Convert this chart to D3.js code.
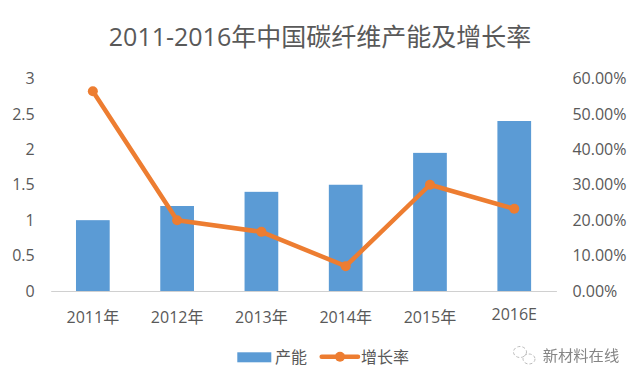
<!DOCTYPE html>
<html>
<head>
<meta charset="utf-8">
<script src="https://cdn.jsdelivr.net/npm/d3@7"></script>
<style>
  html, body { margin: 0; padding: 0; background: #fff; }
  text { font-family: "Open Sans", "Noto Sans CJK SC", sans-serif; fill: #595959; }
</style>
</head>
<body>
<div id="chart"></div>
<script>
var categories = ['2011年', '2012年', '2013年', '2014年', '2015年', '2016E'];
var capacity = [1, 1.2, 1.4, 1.5, 1.95, 2.4];
var growth = [0.564, 0.2, 0.167, 0.07, 0.3, 0.232];
var leftTicks = [0, 0.5, 1, 1.5, 2, 2.5, 3];
var rightTicks = [0, 0.1, 0.2, 0.3, 0.4, 0.5, 0.6];

var width = 640, height = 384;
var plot = {left: 50.7, right: 556.4, top: 78.5, bottom: 291};

var svg = d3.select('#chart').append('svg')
  .attr('width', width)
  .attr('height', height);

var x = d3.scaleBand().domain(categories).range([plot.left, plot.right]).paddingInner(0.6).paddingOuter(0.3);
var yLeft = d3.scaleLinear().domain([0, 3]).range([plot.bottom, plot.top]);
var yRight = d3.scaleLinear().domain([0, 0.6]).range([plot.bottom, plot.top]);

svg.append('text')
  .attr('x', 320).attr('y', 46)
  .attr('text-anchor', 'middle')
  .style('font-size', '25px')
  .text('2011-2016年中国碳纤维产能及增长率');

var gLeft = svg.append('g')
  .attr('transform', 'translate(' + plot.left + ',0)')
  .call(d3.axisLeft(yLeft).tickValues(leftTicks).tickSize(0).tickPadding(16).tickFormat(d3.format('')));
gLeft.select('.domain').remove();
gLeft.selectAll('text').style('font-size', '16px');

var gRight = svg.append('g')
  .attr('transform', 'translate(' + plot.right + ',0)')
  .call(d3.axisRight(yRight).tickValues(rightTicks).tickSize(0).tickPadding(16).tickFormat(d3.format('.2%')));
gRight.select('.domain').remove();
gRight.selectAll('text').style('font-size', '16px');

var gBottom = svg.append('g')
  .attr('transform', 'translate(0,' + plot.bottom + ')')
  .call(d3.axisBottom(x).tickSize(0).tickPadding(0));
gBottom.select('.domain').attr('stroke', '#d0d0d0').attr('stroke-width', 1.2);
gBottom.selectAll('text')
  .style('font-size', '16px')
  .attr('dy', null)
  .attr('y', function(d) { return d === '2016E' ? 29 : 32; });

svg.selectAll('rect.bar')
  .data(capacity)
  .enter().append('rect')
  .attr('class', 'bar')
  .attr('x', function(d, i) { return x(categories[i]); })
  .attr('y', function(d) { return yLeft(d); })
  .attr('width', x.bandwidth())
  .attr('height', function(d) { return plot.bottom - yLeft(d); })
  .attr('fill', '#5b9bd5');

var line = d3.line()
  .x(function(d, i) { return x(categories[i]) + x.bandwidth() / 2; })
  .y(function(d) { return yRight(d); });

svg.append('path')
  .datum(growth)
  .attr('d', line)
  .attr('fill', 'none')
  .attr('stroke', '#ed7d31')
  .attr('stroke-width', 4.5)
  .attr('stroke-linejoin', 'round');

svg.selectAll('circle.dot')
  .data(growth)
  .enter().append('circle')
  .attr('class', 'dot')
  .attr('cx', function(d, i) { return x(categories[i]) + x.bandwidth() / 2; })
  .attr('cy', function(d) { return yRight(d); })
  .attr('r', 5)
  .attr('fill', '#ed7d31');

// legend
var legend = svg.append('g');
legend.append('rect').attr('x', 237.3).attr('y', 352.3).attr('width', 34).attr('height', 10).attr('fill', '#5b9bd5');
legend.append('text').attr('x', 275).attr('y', 362.5).style('font-size', '16px').text('产能');
legend.append('line').attr('x1', 321.7).attr('x2', 358).attr('y1', 356.7).attr('y2', 356.7).attr('stroke', '#ed7d31').attr('stroke-width', 4.5).attr('stroke-linecap', 'round');
legend.append('circle').attr('cx', 340).attr('cy', 356.7).attr('r', 5).attr('fill', '#ed7d31');
legend.append('text').attr('x', 361).attr('y', 362.5).style('font-size', '16px').text('增长率');

// watermark, faint and a bit blurred like the source
var defs = svg.append('defs');
defs.append('filter').attr('id', 'soft').append('feGaussianBlur').attr('stdDeviation', 0.4);
var mark = svg.append('g').attr('filter', 'url(#soft)');
mark.append('ellipse').attr('cx', 520).attr('cy', 352).attr('rx', 6.5).attr('ry', 5.5)
  .attr('fill', 'none').attr('stroke', '#bbb').attr('stroke-dasharray', '3 2');
mark.append('ellipse').attr('cx', 529).attr('cy', 359).attr('rx', 6).attr('ry', 5)
  .attr('fill', 'none').attr('stroke', '#bbb').attr('stroke-dasharray', '3 2');
mark.append('text').attr('x', 542.7).attr('y', 361).style('font-size', '15.3px').style('fill', '#858585').text('新材料在线');
</script>
</body>
</html>
